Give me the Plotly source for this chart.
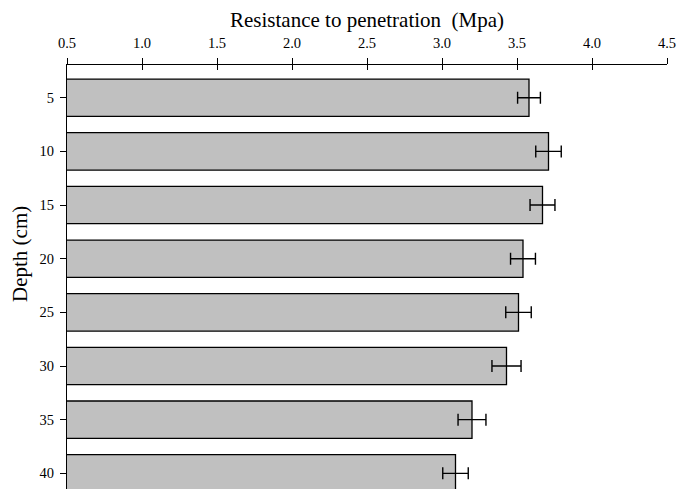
import plotly.graph_objects as go

# Soil penetration resistance by depth
depth_cm = [5, 10, 15, 20, 25, 30, 35, 40]
resistance_mpa = [3.58, 3.71, 3.67, 3.54, 3.51, 3.43, 3.20, 3.09]
resistance_se = [0.076, 0.085, 0.083, 0.083, 0.085, 0.097, 0.093, 0.085]
x_ticks = [0.5, 1.0, 1.5, 2.0, 2.5, 3.0, 3.5, 4.0, 4.5]
x_tick_text = ["0.5", "1.0", "1.5", "2.0", "2.5", "3.0", "3.5", "4.0", "4.5"]

FONT = "Liberation Serif, Times New Roman, serif"

fig = go.Figure()
fig.add_trace(go.Bar(
    x=resistance_mpa,
    y=depth_cm,
    orientation="h",
    width=3.48,
    marker=dict(color="#c0c0c0", line=dict(color="#000000", width=1.3)),
    error_x=dict(type="data", array=resistance_se, visible=True,
                 color="#000000", thickness=1.4, width=6),
    showlegend=False,
))

# Second copy of the value axis, used only for the inner half of the crossing ticks
fig.add_trace(go.Scatter(x=[None], y=[None], xaxis="x2", yaxis="y",
                         showlegend=False, hoverinfo="skip"))

fig.update_layout(
    width=677, height=489,
    margin=dict(l=67, r=10, t=65, b=0),
    plot_bgcolor="white", paper_bgcolor="white",
    font=dict(family=FONT, size=14.5, color="#000000"),
    xaxis=dict(
        side="top", range=[0.5, 4.5], tickvals=x_ticks, ticktext=x_tick_text,
        ticks="outside", ticklen=6, tickwidth=1, tickcolor="#000000",
        showline=True, linecolor="#000000", linewidth=1,
        showgrid=False, zeroline=False,
        tickfont=dict(family=FONT, size=14.5), ticklabelstandoff=4,
    ),
    xaxis2=dict(
        overlaying="x", side="top", range=[0.5, 4.5], tickvals=x_ticks,
        ticks="inside", ticklen=5, tickwidth=1, tickcolor="#000000",
        showticklabels=False, showline=False, showgrid=False, zeroline=False,
    ),
    yaxis=dict(
        range=[41.46, 1.95], tickvals=depth_cm,
        ticks="outside", ticklen=6, tickwidth=1, tickcolor="#000000",
        showline=True, linecolor="#000000", linewidth=1,
        showgrid=False, zeroline=False,
        tickfont=dict(family=FONT, size=14.5), ticklabelstandoff=3,
    ),
    annotations=[
        dict(text="Resistance to penetration  (Mpa)", xref="paper", yref="paper",
             x=0.5, y=1 + (65 - 20) / 424, xanchor="center", yanchor="middle",
             showarrow=False, font=dict(family=FONT, size=21)),
        dict(text="Depth (cm)", xref="paper", yref="paper",
             x=(20 - 67) / 600, y=(489 - 254) / 424, xanchor="center", yanchor="middle",
             textangle=-90, showarrow=False, font=dict(family=FONT, size=21)),
    ],
)

fig.write_html("out.html")
